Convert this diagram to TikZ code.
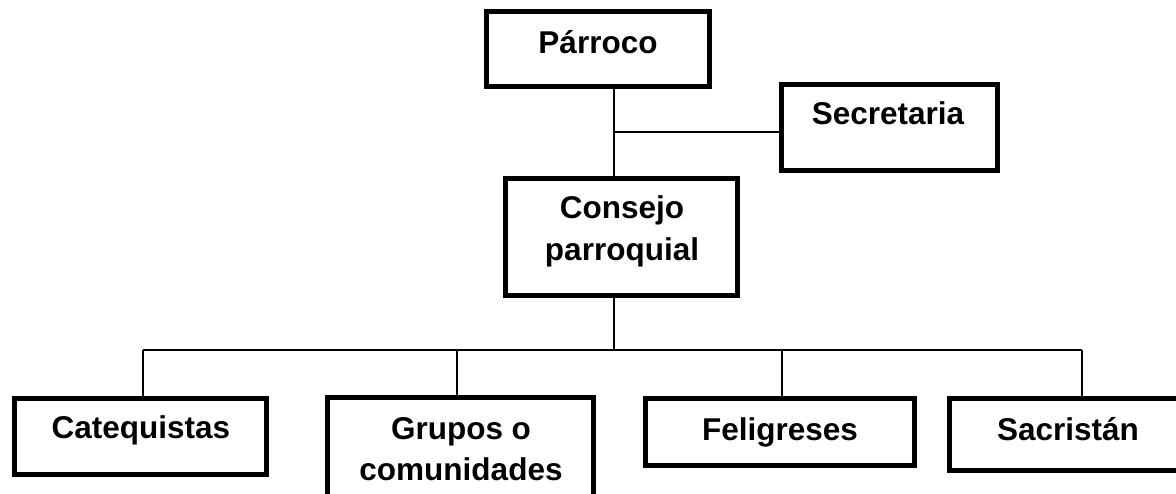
\documentclass[tikz,border=0pt]{standalone}
\usepackage{fontspec}
\setmainfont{Liberation Sans}
\begin{document}
\begin{tikzpicture}[x=1pt,y=-1pt,
  box/.style={draw=black,line width=5pt,rectangle,inner sep=0pt,fill=white},
  lbl/.style={anchor=base,inner sep=0pt,font=\fontsize{31.5}{37}\selectfont\bfseries},
  link/.style={draw=black,line width=1.5pt}]
\useasboundingbox (0,0) rectangle (1176,494);
\clip (0,0) rectangle (1176,494);
\fill[white] (0,0) rectangle (1176,494);
\coordinate (spineTop) at (614,89);
\coordinate (spineMid) at (614,132);
\coordinate (spineLow) at (614,350);
\coordinate (busL) at (143,350);
\coordinate (busR) at (1082,350);
% boxes
\node[box,minimum width=223,minimum height=75] (parroco) at (598,49) {};
\node[box,minimum width=216,minimum height=86] (secretaria) at (889.5,127.5) {};
\node[box,minimum width=232,minimum height=117] (consejo) at (621.5,237) {};
\node[box,minimum width=252,minimum height=76] (catequistas) at (140.5,436.5) {};
\node[box,minimum width=266,minimum height=104] (grupos) at (460.5,450) {};
\node[box,minimum width=269,minimum height=67] (feligreses) at (780,432) {};
\node[box,minimum width=280,minimum height=72] (sacristan) at (1089.5,434.5) {};
% connectors
\draw[link] (parroco.south -| spineTop) -- (consejo.north -| spineTop);
\draw[link] (spineMid) -- (secretaria.west |- spineMid);
\draw[link] (consejo.south -| spineLow) -- (spineLow);
\draw[link] (busL) -- (busR);
\draw[link] (busL) -- (catequistas.north -| busL);
\draw[link] (457,350) -- (grupos.north -| 457,350);
\draw[link] (782,350) -- (feligreses.north -| 782,350);
\draw[link] (busR) -- (sacristan.north -| busR);
% labels
\node[lbl] (tparroco) at (598,54) {Párroco};
\node[lbl] (tsecretaria) at (888,125) {Secretaria};
\node[lbl] (tconsejo1) at (622,219) {Consejo};
\node[lbl] (tconsejo2) at (622,261) {parroquial};
\node[lbl] (tcatequistas) at (141,438) {Catequistas};
\node[lbl] (tgrupos1) at (461,439) {Grupos o};
\node[lbl] (tgrupos2) at (461,480) {comunidades};
\node[lbl] (tfeligreses) at (780,440) {Feligreses};
\node[lbl] (tsacristan) at (1068,440) {Sacristán};
\end{tikzpicture}
\end{document}
